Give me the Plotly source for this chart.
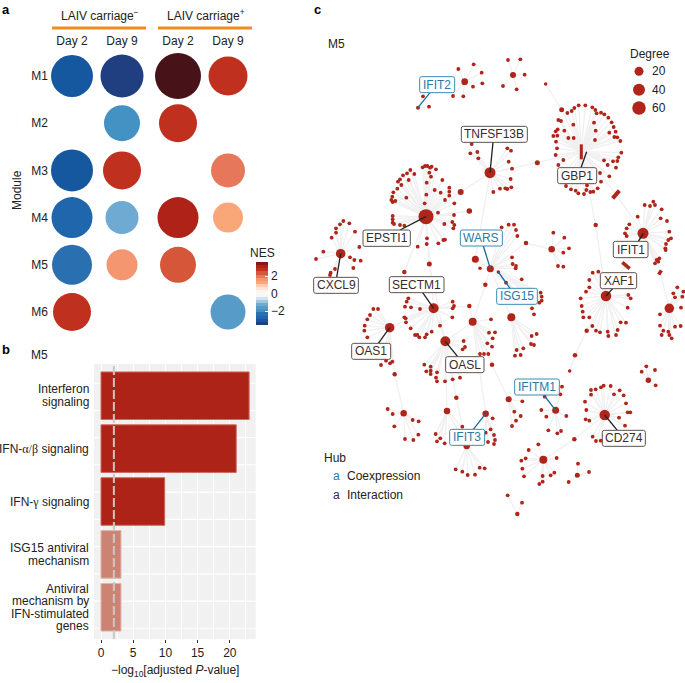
import plotly.graph_objects as go

# ---------- panel a ----------
modules = ["M1", "M2", "M3", "M4", "M5", "M6"]
days = ["Day 2", "Day 9"]
nes_neg_day2 = [-2.9, None, -3.0, -2.7, -2.3, 2.7]
nes_neg_day9 = [-3.4, -1.95, 2.7, -1.25, 1.6, None]
nes_pos_day2 = [4.0, 2.7, None, 3.0, 2.3, None]
nes_pos_day9 = [2.7, None, 2.0, 1.25, None, -1.6]
size_neg_day2 = [42, None, 42, 41, 40, 38]
size_neg_day9 = [43, 36, 38, 33, 31, None]
size_pos_day2 = [46, 38, None, 41, 36, None]
size_pos_day9 = [39, None, 34, 30, None, 35]
nes_bands = ["#1f3f80", "#15589f", "#1f66ad", "#2a6fb0", "#4491c3", "#579cc8", "#6eaad2",
             "#a3c9e2", "#cfe3f0", "#f3f8fb", "#fff5ef", "#fee4d6", "#fccdb5", "#f9a679",
             "#f49670", "#e7775a", "#d55638", "#c0301f", "#ae2218", "#861812"]
nes_limit = 3.6
nes_over_colour = "#471218"

# ---------- panel b ----------
pathways = ["Interferon<br>signaling", "IFN-α/β signaling", "IFN-γ signaling",
            "ISG15 antiviral<br>mechanism",
            "Antiviral<br>mechanism by<br>IFN-stimulated<br>genes"]
log_p = [23, 21, 9.9, 3.1, 3.1]
bar_colours = ["#ad2317", "#ad2317", "#ad2317", "#cb8474", "#cb8474"]
bar_edges = ["#cf6a60", "#cf6a60", "#cf6a60", "#e2b3a6", "#e2b3a6"]
threshold = 2
band_lines = [-0.237 + 0.515 * k for k in range(10)]

# ---------- panel c: network layout units ----------
def shift(points, dy):
    return [(x, y + dy) for x, y in points]

hubs = {
    "IFIT2": (324, 323, 4), "N1": (464, 245, 6.7), "N2": (609, 225, 6),
    "TNFSF13B": (540, 518, 11), "EPSTI1": (348, 650, 15), "CXCL9": (92, 761, 9.5),
    "WARS": (541, 806, 7), "ISG15": (565, 816, 3.5), "N3": (725, 748, 6.5),
    "GBP1": (814, 455, 1), "IFIT1": (999, 700, 11), "XAF1": (888, 888, 10.5), "N4": (1078, 925, 9.5),
    "SECTM1": (371, 925, 10), "OAS1": (239, 983, 9.5), "OASL": (406, 1024, 10),
    "N5": (488, 965, 8), "N6": (604, 952, 8), "N7": (1015, 1141, 5.5),
    "N8": (281, 1240, 6.5), "N9": (411, 1233, 6.5), "IFIT3": (527, 1241, 6.5),
    "N10": (470, 1338, 6.5), "N11": (596, 1198, 6), "IFITM1": (737, 1231, 7),
    "CD274": (884, 1245, 10.5), "N12": (700, 1379, 8), "N13": (802, 1426, 5), "N14": (622, 1542, 4.5),
}
link_nodes = {
    "L1": (707, 252, 3.5), "L2": (755, 329, 5), "L3": (682, 488, 5), "L4": (452, 576, 6),
    "L5": (478, 633, 5.5), "L6": (496, 778, 7), "L7": (857, 675, 4.5), "L8": (358, 792, 5),
    "L9": (283, 816, 4.5), "L10": (254, 1123, 4.5), "L11": (478, 918, 4.5), "L12": (526, 854, 4.5),
    "L13": (648, 729, 4.5), "L14": (439, 1193, 4.5), "L15": (546, 1094, 4.5), "L16": (830, 992, 4.5),
    "L17": (795, 1066, 4.5), "L18": (779, 1113, 3.5), "L19": (793, 1318, 4.5), "L20": (510, 805, 3.5),
    "B1": (918, 583, 1), "B2": (948, 797, 1), "B3": (1050, 817, 1),
}
thick_nodes = [((814, 433), (814, 478), 3), ((908, 595), (928, 572), 4),
               ((937, 787), (959, 806), 3.5), ((1046, 824), (1054, 811), 3.5)]
leaves = {
    "IFIT2": [(357, 320), (339, 289)],
    "N1": [(445, 207), (491, 193), (515, 218), (517, 250), (489, 260), (460, 289), (429, 288)],
    "N2": [(594, 180), (631, 178), (644, 224), (620, 268), (579, 258)],
    "GBP1": [(772, 339), (785, 333), (793, 324), (806, 316), (826, 316), (847, 322), (856, 330),
             (860, 340), (873, 338), (883, 343), (895, 353), (905, 367), (911, 381), (917, 395),
             (898, 398), (913, 411), (922, 412), (931, 423), (934, 458), (925, 472), (922, 483),
             (909, 484), (918, 503), (882, 481), (893, 495), (898, 529), (870, 519), (873, 545),
             (863, 565), (850, 575), (841, 576), (829, 570), (822, 582), (805, 580), (797, 572),
             (783, 568), (768, 558), (756, 532), (745, 495), (760, 480), (737, 465), (741, 445),
             (738, 425), (742, 407), (730, 408), (737, 394), (743, 388), (745, 360), (753, 363),
             (790, 374), (852, 368), (857, 392), (855, 420), (775, 414), (791, 414), (763, 392),
             (831, 556), (826, 545)],
    "TNFSF13B": [(485, 432), (481, 460), (502, 456), (505, 475), (592, 445), (603, 452), (596, 485),
                 (606, 506), (602, 537), (604, 562), (592, 567), (586, 565), (570, 566), (550, 576)],
    "EPSTI1": [(345, 498), (352, 498), (338, 502), (360, 503), (365, 500), (378, 508), (358, 518),
               (363, 530), (313, 522), (301, 510), (291, 520), (279, 526), (296, 540), (270, 538),
               (264, 545), (274, 555), (262, 566), (250, 577), (247, 590), (244, 600), (256, 603),
               (248, 606), (289, 593), (397, 540), (374, 570), (350, 548), (349, 584), (392, 578),
               (418, 563), (418, 575), (418, 587), (405, 600), (384, 638), (433, 610), (432, 645),
               (344, 610), (248, 648), (248, 658), (248, 668)]
              + shift([(252, 72), (270, 75), (283, 77), (427, 66), (433, 75), (430, 85), (405, 119),
                       (400, 120), (385, 130), (351, 115), (350, 132), (323, 140), (403, 72)], 600),
    "CXCL9": shift([(100, 63), (118, 70), (90, 73), (78, 85), (78, 98), (135, 95), (65, 113), (40, 155),
                    (18, 177), (148, 141), (120, 172), (133, 180), (152, 182), (75, 207), (62, 218),
                    (130, 204), (60, 225)], 600),
    "WARS": shift([(596, 74), (612, 74), (618, 90), (622, 108), (606, 172), (608, 192), (618, 198),
                   (617, 205), (635, 238), (588, 248), (575, 82)], 600),
    "ISG15": shift([(692, 278), (695, 290), (695, 302), (688, 308), (666, 325), (672, 343)], 600),
    "N3": shift([(730, 98), (763, 113), (777, 145), (760, 158), (744, 198), (760, 200)], 600),
    "IFIT1": shift([(1004, 15), (1020, 18), (1030, 5), (1035, 15), (1055, 28), (983, 50), (1052, 55),
                    (1071, 63), (958, 73), (950, 85), (945, 100), (950, 108), (1078, 95), (1075, 120),
                    (1083, 115), (1068, 132), (1066, 145), (1067, 150), (1048, 175), (1040, 180),
                    (1045, 185), (1035, 190)], 600),
    "XAF1": shift([(865, 215), (848, 218), (838, 240), (838, 262), (828, 275), (812, 295), (815, 318),
                   (818, 335), (838, 352), (820, 352), (847, 378), (858, 392), (870, 397), (893, 395),
                   (895, 408), (918, 405), (923, 390), (932, 367), (948, 368), (953, 323), (955, 285),
                   (962, 295)], 600),
    "N4": shift([(1102, 262), (1090, 280), (1120, 275), (1117, 290), (1095, 292), (1113, 323), (1050, 343),
                 (1050, 377), (1060, 392), (1055, 405), (1075, 395), (1078, 405), (1085, 415), (1095, 380),
                 (1112, 378)], 600),
    "SECTM1": shift([(295, 295), (290, 305), (285, 320), (303, 322), (330, 327), (283, 352), (287, 355),
                     (288, 367), (302, 385), (315, 405), (322, 405), (328, 412), (345, 412), (350, 403),
                     (365, 395), (390, 377), (427, 352), (428, 325), (432, 318), (428, 305)], 600),
    "OAS1": shift([(190, 327), (204, 327), (180, 345), (172, 358), (164, 377), (163, 392), (172, 412),
                   (213, 495), (228, 482), (247, 485), (240, 490)], 600),
    "OASL": shift([(343, 494), (362, 500), (349, 514), (362, 512), (362, 522), (381, 517), (378, 533),
                   (381, 544), (405, 544), (428, 538), (450, 533), (461, 423), (465, 441), (458, 448),
                   (448, 492)], 600),
    "N5": shift([(543, 358), (555, 397), (537, 398), (548, 415), (532, 430), (546, 440), (510, 462),
                 (522, 462), (535, 462)], 600),
    "N6": shift([(680, 402), (665, 408), (672, 435), (663, 432), (640, 445), (620, 450), (632, 465),
                 (615, 467)], 600),
    "N7": shift([(1009, 499), (995, 515), (1035, 510), (1037, 556)], 600),
    "N8": shift([(233, 147), (248, 162), (308, 180), (326, 184), (253, 199), (325, 224), (285, 237),
                 (310, 240)], 1080),
    "N9": shift([(377, 222), (391, 235), (381, 244), (404, 250), (457, 200)], 1080),
    "IFIT3": shift([(548, 175), (542, 208), (552, 225), (555, 240), (552, 252), (534, 246), (527, 218)], 1080),
    "N10": shift([(437, 328), (457, 335), (473, 345), (495, 344), (509, 323), (524, 325)], 1080),
    "N11": shift([(637, 124), (613, 155), (632, 168), (618, 182), (606, 198)], 1080),
    "IFITM1": shift([(756, 80), (751, 103), (704, 110), (694, 150), (709, 170), (769, 168), (715, 211),
                     (742, 220), (753, 213)], 1080),
    "CD274": shift([(843, 90), (857, 88), (843, 104), (873, 82), (881, 77), (902, 78), (912, 103), (929, 91),
                    (941, 106), (948, 130), (825, 125), (829, 150), (827, 178), (838, 182), (927, 173),
                    (953, 157), (961, 157), (945, 197), (848, 230), (858, 243), (872, 242)], 1080),
    "N12": shift([(656, 270), (685, 253), (634, 302), (647, 295), (740, 294), (637, 326), (642, 349),
                  (698, 348), (722, 346), (733, 338), (698, 365), (688, 372)], 1080),
    "N13": shift([(804, 311), (837, 336), (776, 366)], 1080),
    "N14": shift([(593, 406), (636, 428)], 1080),
}
links = [("L1", "L2"), ("L2", "GBP1"), ("TNFSF13B", "L3"), ("L3", "GBP1"), ("TNFSF13B", "L4"),
         ("L4", "EPSTI1"), ("EPSTI1", "L5"), ("TNFSF13B", "L6"), ("GBP1", "B1"), ("B1", "IFIT1"),
         ("GBP1", "L7"), ("L7", "XAF1"), ("IFIT1", "B2"), ("B2", "XAF1"), ("IFIT1", "B3"), ("B3", "N4"),
         ("EPSTI1", "L8"), ("L8", "OASL"), ("EPSTI1", "L9"), ("EPSTI1", "SECTM1"), ("OAS1", "SECTM1"),
         ("OAS1", "L10"), ("L10", "N8"), ("SECTM1", "L11"), ("L11", "N5"), ("SECTM1", "OASL"),
         ("OASL", "N5"), ("N5", "L12"), ("L12", "WARS"), ("WARS", "L13"), ("L13", "N3"), ("WARS", "L6"),
         ("WARS", "L20"), ("WARS", "ISG15"), ("WARS", "N6"), ("OASL", "N9"), ("OASL", "L14"), ("L14", "N10"),
         ("N5", "IFIT3"), ("N5", "L15"), ("L15", "N11"), ("XAF1", "L16"), ("L16", "L17"), ("L17", "L18"),
         ("CD274", "L19"), ("L19", "N12"), ("N9", "N10")]

# name, box left, box right, box top, box bottom, connector start, connector end, kind
gene_labels = [
    ("IFIT2", 329, 434, 230, 278, (360, 278), (324, 323), "co"),
    ("TNFSF13B", 454, 652, 379, 427, (549, 427), (540, 518), "in"),
    ("GBP1", 743, 860, 503, 551, (813, 503), (830, 455), "in"),
    ("EPSTI1", 159, 301, 690, 739, (270, 690), (348, 650), "in"),
    ("WARS", 451, 577, 690, 738, (520, 738), (541, 806), "co"),
    ("IFIT1", 910, 1014, 724, 773, (985, 724), (1000, 700), "in"),
    ("CXCL9", 11, 145, 832, 880, (80, 832), (92, 761), "in"),
    ("SECTM1", 238, 402, 830, 878, (338, 878), (371, 925), "in"),
    ("XAF1", 871, 980, 818, 866, (908, 866), (888, 888), "in"),
    ("ISG15", 560, 682, 865, 913, (600, 865), (565, 816), "co"),
    ("OAS1", 125, 242, 1030, 1078, (205, 1030), (239, 983), "in"),
    ("OASL", 407, 522, 1070, 1118, (443, 1070), (406, 1024), "in"),
    ("IFITM1", 614, 748, 1137, 1185, (703, 1187), (737, 1231), "co"),
    ("IFIT3", 419, 524, 1288, 1336, (490, 1288), (527, 1241), "co"),
    ("CD274", 877, 1006, 1291, 1339, (922, 1291), (884, 1245), "in"),
]
degree_values = [20, 40, 60]
degree_sizes = [9, 12, 13.5]
degree_y = [214, 269, 324]

# ---------- helpers and styling ----------
W, H = 685, 683
FONT = "Liberation Sans"
INK = "#222222"
NODE = "#b0241a"
EDGE = "#f0f0f0"
KIND = {"co": dict(text="#2a7aa8", line="#3b8ab5", conn="#1a6a99"),
        "in": dict(text="#3b2a2a", line="#5e5050", conn="#222222")}
fx = lambda p: p / W
fy = lambda p: 1 - p / H

fig = go.Figure()
bands = []
for i, c in enumerate(nes_bands):
    bands += [[i / len(nes_bands), c], [(i + 1) / len(nes_bands), c]]


def bubble(nes, size, day, xa):
    rows = [(m, n, s) for m, n, s in zip(modules, nes, size) if n is not None]
    inside = [r for r in rows if abs(r[1]) <= nes_limit]
    over = [r for r in rows if abs(r[1]) > nes_limit]
    fig.add_trace(go.Scatter(x=[day] * len(inside), y=[r[0] for r in inside], mode="markers",
                             xaxis=xa, yaxis="y", cliponaxis=False, showlegend=False,
                             marker=dict(size=[r[2] for r in inside], color=[r[1] for r in inside],
                                         coloraxis="coloraxis", line=dict(width=0), opacity=1)))
    if over:
        fig.add_trace(go.Scatter(x=[day] * len(over), y=[r[0] for r in over], mode="markers",
                                 xaxis=xa, yaxis="y", cliponaxis=False, showlegend=False,
                                 marker=dict(size=[r[2] for r in over], color=nes_over_colour,
                                             line=dict(width=0), opacity=1)))


bubble(nes_neg_day2, size_neg_day2, days[0], "x")
bubble(nes_neg_day9, size_neg_day9, days[1], "x")
bubble(nes_pos_day2, size_pos_day2, days[0], "x2")
bubble(nes_pos_day9, size_pos_day9, days[1], "x2")

# bars
fig.add_trace(go.Bar(x=log_p, y=pathways, orientation="h", width=0.9, xaxis="x3", yaxis="y3",
                     showlegend=False,
                     marker=dict(color=bar_colours, line=dict(color=bar_edges, width=1))))

# network
where = {k: v[:2] for k, v in hubs.items()}
where.update({k: v[:2] for k, v in link_nodes.items()})
ex, ey = [], []
for hub, pts in leaves.items():
    hx, hy = where[hub]
    for px, py in pts:
        ex += [hx, px, None]
        ey += [hy, py, None]
for a, b in links:
    ex += [where[a][0], where[b][0], None]
    ey += [where[a][1], where[b][1], None]
fig.add_trace(go.Scatter(x=ex, y=ey, mode="lines", xaxis="x4", yaxis="y4", showlegend=False,
                         line=dict(color=EDGE, width=1.3), hoverinfo="skip"))
for start, end, width in thick_nodes:
    fig.add_trace(go.Scatter(x=[start[0], end[0]], y=[start[1], end[1]], mode="lines", xaxis="x4", yaxis="y4",
                             showlegend=False, line=dict(color=NODE, width=width)))
leaf_pts = [p for pts in leaves.values() for p in pts]
fig.add_trace(go.Scatter(x=[p[0] for p in leaf_pts], y=[p[1] for p in leaf_pts], mode="markers", xaxis="x4",
                         yaxis="y4", showlegend=False,
                         marker=dict(size=3.8, color=NODE, line=dict(width=0), opacity=1)))
big = [v for v in list(hubs.values()) + list(link_nodes.values()) if v[2] > 1]
fig.add_trace(go.Scatter(x=[v[0] for v in big], y=[v[1] for v in big], mode="markers", xaxis="x4", yaxis="y4",
                         showlegend=False,
                         marker=dict(size=[v[2] for v in big], color=NODE, line=dict(width=0), opacity=1)))
for name, l, r, t, b, c0, c1, kind in gene_labels:
    fig.add_trace(go.Scatter(x=[c0[0], c1[0]], y=[c0[1], c1[1]], mode="lines", xaxis="x4", yaxis="y4",
                             showlegend=False, line=dict(color=KIND[kind]["conn"], width=1.3)))
fig.add_trace(go.Scatter(x=[987] * 3, y=degree_y, mode="markers", xaxis="x4", yaxis="y4", showlegend=False,
                         marker=dict(size=degree_sizes, color=NODE, line=dict(width=0), opacity=1)))

# shapes
shapes = [dict(type="rect", xref="x3 domain", yref="y3 domain", x0=0, x1=1, y0=0, y1=1, layer="below",
               fillcolor="#f1f1f1", line=dict(width=0))]
for yv in band_lines:
    shapes.append(dict(type="line", xref="x3 domain", yref="y3", x0=0, x1=1, y0=yv, y1=yv, layer="below",
                       line=dict(color="white", width=1.1)))
shapes.append(dict(type="line", xref="x3", yref="y3 domain", x0=threshold, x1=threshold, y0=0, y1=1,
                   line=dict(color="#c8c8c8", width=2, dash="9px,3px")))
shapes.append(dict(type="line", xref="x domain", yref="paper", x0=0, x1=1, y0=fy(28), y1=fy(28),
                   line=dict(color="#f28a1e", width=3)))
shapes.append(dict(type="line", xref="x2 domain", yref="paper", x0=0, x1=1, y0=fy(28), y1=fy(28),
                   line=dict(color="#f28a1e", width=3)))
rad = 6
for name, l, r, t, b, c0, c1, kind in gene_labels:
    path = (f"M {l+rad} {t} L {r-rad} {t} Q {r} {t} {r} {t+rad} L {r} {b-rad} Q {r} {b} {r-rad} {b} "
            f"L {l+rad} {b} Q {l} {b} {l} {b-rad} L {l} {t+rad} Q {l} {t} {l+rad} {t} Z")
    shapes.append(dict(type="path", path=path, xref="x4", yref="y4", fillcolor="white",
                       line=dict(color=KIND[kind]["line"], width=1)))

# annotations
ann = []
def note(text, x, y, size=12, color=INK, anchor="left", **kw):
    ann.append(dict(text=text, x=fx(x), y=fy(y), xref="paper", yref="paper", showarrow=False,
                    xanchor=anchor, yanchor="middle", font=dict(family=FONT, size=size, color=color), **kw))

note("<b>a</b>", 0, 9, size=13, color="#000000")
note("<b>b</b>", 0, 349, size=13, color="#000000")
note("<b>c</b>", 312, 9, size=13, color="#000000")
note("LAIV carriage<sup>−</sup>", 99.5, 15, anchor="center")
note("LAIV carriage<sup>+</sup>", 205.5, 15, anchor="center")
note("Module", 17, 190, anchor="center", textangle=-90)
note("NES", 262, 253, anchor="center")
note("M5", 29, 355)
note("M5", 326, 44)
note("Degree", 650, 54, anchor="center")
for v, yv in zip(degree_values, degree_y):
    note(str(v), 650, yv / 3)
note("Hub", 322, 458)
note("a", 331, 476, color=KIND["co"]["text"])
note("Coexpression", 344.5, 476)
note("a", 331, 494.5, color=KIND["in"]["text"])
note("Interaction", 344.5, 494.5)
note("−log<sub>10</sub>[adjusted <i>P</i>-value]", 175, 671, anchor="center")
for i, lab in enumerate(pathways):
    lines = lab.split("<br>")
    for j, line in enumerate(lines):
        line = line.replace("α/β", '<span style="font-family:Liberation Serif">α/β</span>')
        line = line.replace("γ", '<span style="font-family:Liberation Serif">γ</span>')
        ann.append(dict(text=line, x=fx(90.5), xref="paper", y=i, yref="y3", showarrow=False, xanchor="right",
                        yanchor="middle", yshift=-(j - (len(lines) - 1) / 2) * 12.5,
                        font=dict(family=FONT, size=12, color=INK)))
for name, l, r, t, b, c0, c1, kind in gene_labels:
    ann.append(dict(text=name, x=(l + r) / 2, y=(t + b) / 2, xref="x4", yref="y4", showarrow=False,
                    xanchor="center", yanchor="middle", font=dict(family=FONT, size=12, color=KIND[kind]["text"])))

tick_font = dict(family=FONT, size=12, color=INK)
day_axis = dict(type="category", categoryorder="array", categoryarray=days, side="top", showgrid=False, zeroline=False,
                showline=False, ticks="", tickfont=tick_font, ticklabelstandoff=4)
fig.update_layout(
    width=W, height=H, margin=dict(l=0, r=0, t=0, b=0), paper_bgcolor="white", plot_bgcolor="rgba(0,0,0,0)",
    showlegend=False, font=dict(family=FONT, size=12, color=INK), shapes=shapes, annotations=ann,
    coloraxis=dict(cmin=-nes_limit, cmax=nes_limit, colorscale=bands,
                   colorbar=dict(x=fx(256), xanchor="left", xpad=0, y=fy(293.5), yanchor="middle", ypad=0,
                                 thickness=12, thicknessmode="pixels", len=63, lenmode="pixels",
                                 outlinewidth=0, tickvals=[2, 0, -2], ticktext=["2", "0", "−2"], ticks="inside",
                                 ticklen=3, tickcolor="white", tickwidth=1, tickfont=tick_font,
                                 ticklabelposition="outside")),
    xaxis=dict(domain=[fx(52), fx(146)], anchor="y", range=[(52 - 72) / 50, (146 - 72) / 50], **day_axis),
    xaxis2=dict(domain=[fx(158), fx(252)], anchor="y", range=[(158 - 178) / 50, (252 - 178) / 50], **day_axis),
    yaxis=dict(domain=[fy(335.6), fy(52.4)], type="category", categoryorder="array", categoryarray=modules,
               range=[5.5, -0.5], showgrid=False, zeroline=False, showline=False, ticks="", tickfont=tick_font,
               ticklabelstandoff=3, anchor="x"),
    xaxis3=dict(domain=[fx(94), fx(255.7)], anchor="y3", range=[(94 - 101) / 6.44, (255.7 - 101) / 6.44],
                dtick=5, tick0=0, showgrid=True, gridcolor="white", gridwidth=1.1, zeroline=False, showline=False,
                ticks="outside", ticklen=3, tickcolor="#333333", tickwidth=1, tickfont=tick_font,
                minor=dict(dtick=2.5, tick0=0, showgrid=True, gridcolor="white", gridwidth=0.6, ticks="")),
    yaxis3=dict(domain=[fy(639), fy(364)], anchor="x3", type="category", categoryorder="array", categoryarray=pathways,
                range=[4.6, -0.6], showgrid=False, zeroline=False, showline=False, ticks="", showticklabels=False),
    xaxis4=dict(domain=[fx(310), 1], anchor="y4", range=[0, 1125], visible=False),
    yaxis4=dict(domain=[0, 1], anchor="x4", range=[2049, 0], visible=False),
)
fig.write_html("out.html", config={"displayModeBar": False},
               post_script="document.body.style.margin='0';document.body.style.background='white';")
